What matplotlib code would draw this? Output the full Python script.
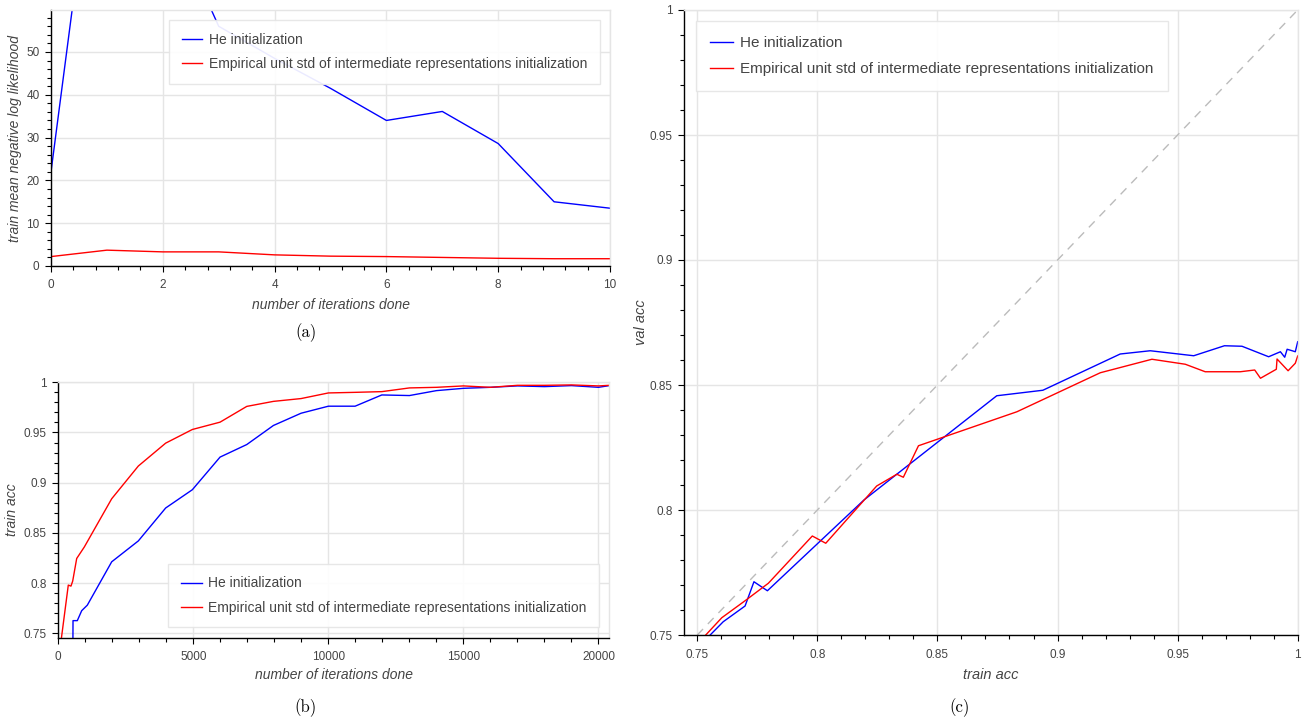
import matplotlib
matplotlib.use("Agg")
import matplotlib.pyplot as plt
from matplotlib.ticker import MultipleLocator, FuncFormatter

plt.rcParams['font.family'] = ['Liberation Sans', 'DejaVu Sans']

LABEL_HE = "He initialization"
LABEL_EMP = "Empirical unit std of intermediate representations initialization"

# (a) train NLL vs iterations
nll_iter = [0, 1, 2, 3, 4, 5, 6, 7, 8, 9, 10]
nll_he = [22, 122, 85, 56, 48.5, 41.5, 34, 36.1, 28.6, 15.0, 13.5]
nll_emp = [2.2, 3.7, 3.3, 3.3, 2.6, 2.3, 2.2, 2.0, 1.8, 1.7, 1.7]

# (b) train acc vs iterations
acc_iter_he = [0, 533, 545, 704, 866, 1074, 1977, 2963, 3975, 4963, 5989, 6978,
               7965, 8989, 10000, 10989, 11977, 13000, 14000, 15000, 16000,
               17000, 18000, 19000, 20000, 20400]
acc_he = [0.10, 0.70, 0.7626, 0.7626, 0.7725, 0.778, 0.8212, 0.842, 0.8748,
          0.893, 0.9255, 0.938, 0.957, 0.9692, 0.9762, 0.9762, 0.9874, 0.9868,
          0.9917, 0.994, 0.995, 0.9964, 0.9957, 0.9967, 0.995, 0.9967]
acc_iter_emp = [0, 90, 370, 469, 533, 681, 964, 1977, 2963, 3975, 4963, 5989,
                6978, 7965, 8989, 10000, 10989, 11977, 13000, 14000, 15000,
                16000, 17000, 18000, 19000, 20000, 20400]
acc_emp = [0.10, 0.74, 0.798, 0.797, 0.802, 0.8245, 0.836, 0.884, 0.9166,
           0.9394, 0.953, 0.9603, 0.976, 0.981, 0.9838, 0.9894, 0.990, 0.9907,
           0.9944, 0.995, 0.9964, 0.995, 0.997, 0.997, 0.9974, 0.9964, 0.997]

# (c) val acc vs train acc
tr_he = [0.740, 0.7608, 0.7699, 0.7736, 0.7792, 0.8194, 0.8747, 0.8939, 0.9261,
         0.9386, 0.9567, 0.9695, 0.9768, 0.9879, 0.9928, 0.9946, 0.9956,
         0.9977, 0.999, 1.0]
va_he = [0.735, 0.7553, 0.7616, 0.7713, 0.7677, 0.804, 0.8457, 0.8479, 0.8624,
         0.8637, 0.8617, 0.8657, 0.8655, 0.8613, 0.8633, 0.8611, 0.8643,
         0.8637, 0.8633, 0.8673]
tr_emp = [0.740, 0.7602, 0.7699, 0.7796, 0.7979, 0.8035, 0.8247, 0.8331, 0.8358,
          0.8421, 0.8831, 0.9178, 0.9393, 0.9532, 0.9615, 0.9761, 0.9821,
          0.9845, 0.9911, 0.9914, 0.9960, 0.999, 1.0]
va_emp = [0.736, 0.7569, 0.7637, 0.7707, 0.7896, 0.7867, 0.8096, 0.8143, 0.8131,
          0.8257, 0.8393, 0.8549, 0.8603, 0.8583, 0.8553, 0.8553, 0.856,
          0.8527, 0.8563, 0.8604, 0.8557, 0.8587, 0.8616]

W, H = 1311, 720
GRID = '#e5e5e5'
TXT = '#444444'
fmt = FuncFormatter(lambda v, p: '%g' % round(v, 6))


def box(left, top, right, bottom):
    return [left / W, 1 - bottom / H, (right - left) / W, (bottom - top) / H]


def style(ax, xmaj, xmin, ymaj, ymin, xpad=5, ypad=4):
    ax.grid(True, color=GRID, lw=1)
    ax.set_axisbelow(True)
    for s in ['top', 'right']:
        ax.spines[s].set_color(GRID)
        ax.spines[s].set_linewidth(1)
    for s in ['left', 'bottom']:
        ax.spines[s].set_color('black')
        ax.spines[s].set_linewidth(1)
    ax.xaxis.set_major_locator(MultipleLocator(xmaj))
    ax.xaxis.set_minor_locator(MultipleLocator(xmin))
    ax.yaxis.set_major_locator(MultipleLocator(ymaj))
    ax.yaxis.set_minor_locator(MultipleLocator(ymin))
    ax.xaxis.set_major_formatter(fmt)
    ax.yaxis.set_major_formatter(fmt)
    ax.tick_params(which='major', direction='out', length=4.3, width=0.8,
                   colors='black', labelcolor=TXT, labelsize=8.5)
    ax.tick_params(which='minor', direction='out', length=2.9, width=0.8,
                   colors='black')
    ax.tick_params(axis='x', which='major', pad=xpad)
    ax.tick_params(axis='y', which='major', pad=ypad)


def legend(ax, loc, size, pad=0.75, spacing=0.75, bpad=0.9):
    lg = ax.legend(loc=loc, fontsize=size, frameon=True, fancybox=False,
                   edgecolor=GRID, framealpha=0.92, borderpad=bpad,
                   labelspacing=spacing, handlelength=1.5, handletextpad=0.45,
                   borderaxespad=pad, labelcolor=TXT)
    lg.get_frame().set_linewidth(1)


fig = plt.figure(figsize=(W / 100, H / 100), dpi=100)

# (a)
ax_a = fig.add_axes(box(51, 10, 610, 266))
ax_a.plot(nll_iter, nll_he, color='blue', lw=1, label=LABEL_HE)
ax_a.plot(nll_iter, nll_emp, color='red', lw=1, label=LABEL_EMP)
ax_a.set_xlim(0, 10)
ax_a.set_ylim(0, 59.8)
style(ax_a, 2, 0.4, 10, 2)
ax_a.set_xlabel('number of iterations done', style='italic', color=TXT,
                fontsize=10, labelpad=5)
ax_a.set_ylabel('train mean negative log likelihood', style='italic',
                color=TXT, fontsize=10, labelpad=3)
legend(ax_a, 'upper right', 10)

# (b)
ax_b = fig.add_axes(box(58.3, 382.3, 609.3, 637.7))
ax_b.plot(acc_iter_he, acc_he, color='blue', lw=1, label=LABEL_HE)
ax_b.plot(acc_iter_emp, acc_emp, color='red', lw=1, label=LABEL_EMP)
ax_b.set_xlim(0, 20400)
ax_b.set_ylim(0.7456, 1.0)
style(ax_b, 5000, 1000, 0.05, 0.01)
ax_b.set_xlabel('number of iterations done', style='italic', color=TXT,
                fontsize=10, labelpad=4)
ax_b.set_ylabel('train acc', style='italic', color=TXT, fontsize=10,
                labelpad=3)
legend(ax_b, 'lower right', 10)

# (c)
ax_c = fig.add_axes(box(684.3, 10, 1297.7, 635))
ax_c.plot([0.75, 1.0], [0.75, 1.0], color='#bbbbbb', lw=1, ls=(0, (6, 5)))
ax_c.plot(tr_he, va_he, color='blue', lw=1, label=LABEL_HE)
ax_c.plot(tr_emp, va_emp, color='red', lw=1, label=LABEL_EMP)
ax_c.set_xlim(0.7446, 1.0)
ax_c.set_ylim(0.75, 1.0)
style(ax_c, 0.05, 0.01, 0.05, 0.01, xpad=6, ypad=4)
ax_c.set_xlabel('train acc', style='italic', color=TXT, fontsize=10.5,
                labelpad=5)
ax_c.set_ylabel('val acc', style='italic', color=TXT, fontsize=10.5,
                labelpad=1)
legend(ax_c, 'upper left', 11, pad=0.75, spacing=0.8, bpad=0.95)

for x, y, t in [(306, 333, '(a)'), (306, 708, '(b)'), (960, 708, '(c)')]:
    fig.text(x / W, 1 - y / H, t, ha='center', va='center', fontsize=12,
             family=['cmr10', 'DejaVu Serif'])

fig.savefig('out.png', dpi=100)
